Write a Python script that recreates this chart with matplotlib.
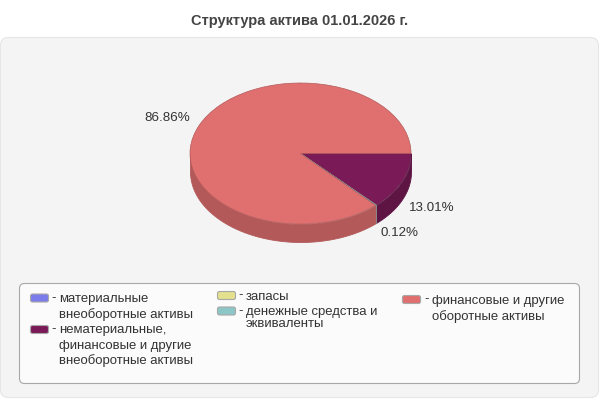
import numpy as np
from matplotlib import pyplot as plt
from matplotlib.patches import FancyBboxPatch

plt.rcParams['font.family'] = ['Liberation Sans', 'DejaVu Sans']

title = "Структура актива 01.01.2026 г."
values = [0.01, 13.01, 0.0, 0.12, 86.86]
colors = ["#7b7bea", "#7a1b57", "#e3e08e", "#8cc6c6", "#e07070"]
side_colors = ["#6262bb", "#5e1544", "#b5b371", "#709e9e", "#b35959"]
value_labels = ["", "13.01%", "", "0.12%", "86.86%"]
legend_labels = [
    ["материальные", "внеоборотные активы"],
    ["нематериальные,", "финансовые и другие", "внеоборотные активы"],
    ["запасы"],
    ["денежные средства и", "эквиваленты"],
    ["финансовые и другие", "оборотные активы"],
]

W, H = 600, 400
fig = plt.figure(figsize=(W / 100, H / 100), dpi=100)

# background layer in pixel coordinates
bg = fig.add_axes([0, 0, 1, 1])
bg.set_xlim(0, W)
bg.set_ylim(H, 0)
bg.axis('off')

bg.add_patch(FancyBboxPatch((0.5, 37.5), 598, 360, boxstyle="round,pad=0,rounding_size=8",
                            fc="#f4f4f4", ec="#e6e6e6", lw=0.8))
bg.add_patch(FancyBboxPatch((19.5, 283.5), 560, 100, boxstyle="round,pad=0,rounding_size=5",
                            fc="#fbfbfb", ec="#a8a8a8", lw=0.8))
bg.text(300, 20.5, title, ha='center', va='center', fontsize=10.5, fontweight='bold', color="#444444")

# pie axes: the ellipse box of the top face, in pixels
left, right, top, bottom = 190, 411, 83, 224
pie_ax = fig.add_axes([left / W, 1 - bottom / H, (right - left) / W, (bottom - top) / H])
pie_ax.axis('off')

depth = 18 / ((bottom - top) / 2)

# side wall, clockwise from 3 o'clock, only the front half shows
start = 0.0
for val, col in zip(values, side_colors):
    end = start + val / 100 * 2 * np.pi
    a0, a1 = start, min(end, np.pi)
    if val > 0 and a0 < np.pi:
        t = np.linspace(a0, a1, 120)
        pie_ax.fill_between(np.cos(t), -np.sin(t), -np.sin(t) - depth, color=col, lw=0.6,
                            clip_on=False, zorder=1)
    start = end

wedges, _ = pie_ax.pie(values, colors=colors, startangle=0, counterclock=False, radius=1)
pie_ax.set_xlim(-1, 1)
pie_ax.set_ylim(-1, 1)
pie_ax.set_aspect('auto')
for w, col in zip(wedges, side_colors):
    w.set_clip_on(False)
    w.set_zorder(2)
    w.set_edgecolor(col)
    w.set_linewidth(0.5)

# value labels
label_pos = [None, (431.5, 208), None, (399.5, 233), (167, 118)]
for text, pos in zip(value_labels, label_pos):
    if text:
        bg.text(pos[0], pos[1], text, ha='center', va='center', fontsize=9.6, color="#333333")

# legend
swatch_pos = [(30.5, 294), (30.5, 325.5), (217.5, 291.5), (217.5, 307), (402.5, 295.5)]
text_pos = [(59, 299), (59, 330), (246, 297), (246, 312), (432, 301)]
line_steps = [16, 15.5, 0, 12, 16]
for i, lines in enumerate(legend_labels):
    sx, sy = swatch_pos[i]
    bg.add_patch(FancyBboxPatch((sx, sy), 18, 8, boxstyle="round,pad=0,rounding_size=2",
                                fc=colors[i], ec="#a8a8a8", lw=0.8))
    tx, ty = text_pos[i]
    bg.text(tx - 7.5, sy + 4, "-", ha='left', va='center', fontsize=9.5, color="#333333")
    for j, line in enumerate(lines):
        bg.text(tx, ty + j * line_steps[i], line, ha='left', va='center', fontsize=9.45, color="#333333")

fig.savefig("out.png", dpi=100)
plt.close(fig)
